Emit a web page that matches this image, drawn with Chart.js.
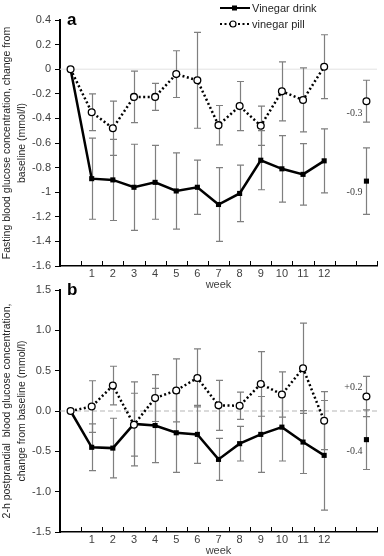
<!DOCTYPE html>
<html><head><meta charset="utf-8">
<script src="https://cdn.jsdelivr.net/npm/chart.js@4/dist/chart.umd.min.js"></script>
<style>
html,body{margin:0;padding:0;background:#fff;}
body{width:384px;height:556px;position:relative;overflow:hidden;}
.box{position:absolute;left:0;width:384px;}
#wa{top:0;height:294px;}
#wb{top:278px;height:282px;}
</style></head><body>
<div class="box" id="wa"><canvas id="ca"></canvas></div>
<div class="box" id="wb"><canvas id="cb"></canvas></div>
<script>
// categories: baseline, weeks 1-12, gap, overall
const weeks = ['', '1','2','3','4','5','6','7','8','9','10','11','12','',''];

// (a) fasting blood glucose, change from baseline (mmol/l)
const drinkFasting    = [0, -0.89, -0.90, -0.96, -0.92, -0.99, -0.96, -1.10, -1.01, -0.74, -0.81, -0.855, -0.745, null, -0.91];
const drinkFastingErr = [0,  0.33,  0.33,  0.35,  0.30,  0.31,  0.22,  0.30,  0.23,  0.24,  0.27,  0.25,   0.26,  null,  0.27];
const pillFasting     = [0, -0.35, -0.48, -0.225, -0.225, -0.04, -0.09, -0.455, -0.30, -0.46, -0.18, -0.25, 0.02, null, -0.26];
const pillFastingErr  = [0,  0.15,  0.22,  0.21,   0.11,   0.19,  0.39,  0.16,   0.20,  0.16,  0.24,  0.26, 0.26, null,  0.17];
const summaryFasting  = ['-0.9', '-0.3'];

// (b) 2-h postprandial blood glucose, change from baseline (mmol/l)
const drinkPost    = [0, -0.45, -0.46, -0.16, -0.18, -0.27, -0.29, -0.60, -0.405, -0.29, -0.20, -0.385, -0.55, null, -0.355];
const drinkPostErr = [0,  0.29,  0.37,  0.52,  0.46,  0.49,  0.36,  0.26,  0.215,  0.47,  0.42,  0.39,   0.68, null,  0.37];
const pillPost     = [0, 0.055, 0.315, -0.17, 0.16, 0.255, 0.41, 0.07, 0.065, 0.335, 0.205, 0.53, -0.12, null, 0.18];
const pillPostErr  = [0, 0.32,  0.24,   0.39, 0.29, 0.39,  0.36, 0.31, 0.17,  0.40,  0.28,  0.56,  0.36, null, 0.25];
const summaryPost  = ['-0.4', '+0.2'];

const seriesNames = ['Vinegar drink', 'vinegar pill'];
const xTitle = 'week';
const yTitleFasting = ['Fasting blood glucose concentration, change from', 'baseline (mmol/l)'];
const yTitlePost = ['2-h postprandial  blood glucose concentration,', 'change from baseline (mmol/l)'];

Chart.defaults.font.family = "'Liberation Sans', Arial, sans-serif";
Chart.defaults.color = '#404040';

const errorBars = {
  id: 'errorBars',
  beforeDatasetsDraw(chart) {
    const ctx = chart.ctx, ys = chart.scales.y, xs = chart.scales.x, ca = chart.chartArea;
    const o = chart.options.plugins.errorBars;
    ctx.save();
    // zero reference line
    const z = ys.getPixelForValue(0);
    ctx.strokeStyle = o.zeroColor;
    ctx.setLineDash(o.zeroDash);
    ctx.lineWidth = 1;
    ctx.beginPath(); ctx.moveTo(ca.left, z); ctx.lineTo(ca.right, z); ctx.stroke();
    ctx.setLineDash([]);
    // x tick marks (pointing up, at category boundaries)
    const step = xs.getPixelForValue(1) - xs.getPixelForValue(0);
    ctx.strokeStyle = '#000'; ctx.lineWidth = 1;
    for (let i = 0; i <= weeks.length; i++) {
      const px = Math.round(xs.getPixelForValue(0) + (i - 0.5) * step) + 0.5;
      ctx.beginPath(); ctx.moveTo(px, ca.bottom); ctx.lineTo(px, ca.bottom - 5); ctx.stroke();
    }
    // error bars
    chart.data.datasets.forEach((ds, di) => {
      const meta = chart.getDatasetMeta(di);
      if (!ds.errors) return;
      ctx.strokeStyle = ds.errorColor; ctx.lineWidth = 1.2;
      meta.data.forEach((pt, i) => {
        const v = ds.data[i], e = ds.errors[i];
        if (v == null || !e) return;
        const x = Math.round(pt.x) + 0.5, y1 = ys.getPixelForValue(v + e), y2 = ys.getPixelForValue(v - e);
        ctx.beginPath();
        ctx.moveTo(x, y1); ctx.lineTo(x, y2);
        ctx.moveTo(x - 3.5, y1); ctx.lineTo(x + 3.5, y1);
        ctx.moveTo(x - 3.5, y2); ctx.lineTo(x + 3.5, y2);
        ctx.stroke();
      });
    });
    ctx.restore();
  },
  afterDatasetsDraw(chart) {
    const ctx = chart.ctx, o = chart.options.plugins.errorBars;
    ctx.save();
    ctx.font = "10px 'Liberation Serif', serif";
    ctx.fillStyle = '#404040';
    ctx.textAlign = 'right'; ctx.textBaseline = 'middle';
    chart.data.datasets.forEach((ds, di) => {
      const meta = chart.getDatasetMeta(di);
      const pt = meta.data[meta.data.length - 1];
      ctx.fillText(o.summary[di], pt.x - 4, pt.y + o.summaryDy[di]);
    });
    // panel letter
    ctx.font = "bold 17px 'Liberation Sans', Arial, sans-serif";
    ctx.textAlign = 'left';
    ctx.fillStyle = '#000';
    ctx.fillText(o.letter, chart.chartArea.left + 7, chart.chartArea.top);
    // legend
    if (o.legend) {
      const lx = 220, ly = 8;
      ctx.font = "11px 'Liberation Sans', Arial, sans-serif";
      ctx.strokeStyle = '#000';
      ctx.lineWidth = 2;
      ctx.beginPath(); ctx.moveTo(lx, ly); ctx.lineTo(lx + 30, ly); ctx.stroke();
      ctx.fillStyle = '#000'; ctx.fillRect(lx + 12, ly - 2.5, 5, 5);
      ctx.fillStyle = '#262626';
      ctx.fillText(seriesNames[0], lx + 32, ly + 1);
      ctx.setLineDash([2, 2.5]);
      ctx.beginPath(); ctx.moveTo(lx, ly + 16); ctx.lineTo(lx + 30, ly + 16); ctx.stroke();
      ctx.setLineDash([]);
      ctx.lineWidth = 1.2;
      ctx.beginPath(); ctx.arc(lx + 13, ly + 16, 3, 0, Math.PI * 2); ctx.fillStyle = '#fff'; ctx.fill(); ctx.stroke();
      ctx.fillStyle = '#262626';
      ctx.fillText(seriesNames[1], lx + 32, ly + 17);
    }
    ctx.restore();
  }
};

function makeChart(id, drink, drinkErr, pill, pillErr, yMin, yMax, yStep, fmt, yTitle, pluginOpts, padTop) {
  return new Chart(document.getElementById(id), {
    type: 'line',
    data: {
      labels: weeks,
      datasets: [
        { label: seriesNames[0], data: drink, errors: drinkErr, errorColor: '#7f7f7f', order: 1,
          borderColor: '#000', backgroundColor: '#000', borderWidth: 2.5,
          pointStyle: 'rect', pointRadius: 3.6, pointBorderWidth: 0, pointBackgroundColor: '#000',
          spanGaps: false, tension: 0 },
        { label: seriesNames[1], data: pill, errors: pillErr, errorColor: '#7f7f7f', order: 0,
          borderColor: '#000', backgroundColor: '#fff', borderWidth: 2.5, borderDash: [2, 2.5],
          pointStyle: 'circle', pointRadius: 3.4, pointBorderWidth: 1.3, pointBackgroundColor: '#fff', pointBorderColor: '#000',
          spanGaps: false, tension: 0 }
      ]
    },
    options: {
      responsive: true, maintainAspectRatio: false, animation: false,
      layout: { padding: { top: padTop, right: 7, left: 0, bottom: 0 } },
      plugins: { legend: { display: false }, tooltip: { enabled: false }, errorBars: pluginOpts },
      scales: {
        x: {
          type: 'category', offset: true,
          grid: { display: false, drawTicks: false, tickLength: 0 },
          border: { display: true, color: '#000', width: 1.5 },
          ticks: { padding: 1, font: { size: 11 }, color: '#404040', maxRotation: 0, autoSkip: false },
          title: { display: true, text: xTitle, font: { size: 11 }, color: '#404040', padding: { top: 0, bottom: 2 } },
          afterFit: s => { s.height = 28; }
        },
        y: {
          min: yMin, max: yMax,
          grid: { drawOnChartArea: false, drawTicks: true, tickLength: 5, tickColor: '#000', color: '#000' },
          border: { display: true, color: '#000', width: 2 },
          ticks: { stepSize: yStep, padding: 4, font: { size: 11 }, color: '#404040', callback: fmt },
          title: { display: true, text: yTitle, font: { size: 10.5, lineHeight: 1.4 }, color: '#262626', padding: { top: 0, bottom: 0 } },
          afterFit: s => { s.width = 60; }
        }
      }
    },
    plugins: [errorBars]
  });
}

makeChart('ca', drinkFasting, drinkFastingErr, pillFasting, pillFastingErr, -1.6, 0.4, 0.2,
  v => { const r = Math.round(v * 10) / 10; return (r === 0 ? 0 : r).toString(); },
  yTitleFasting,
  { zeroColor: '#e3e3e3', zeroDash: [], summary: summaryFasting, summaryDy: [11, 12], letter: 'a', legend: true }, 20);

makeChart('cb', drinkPost, drinkPostErr, pillPost, pillPostErr, -1.5, 1.5, 0.5,
  v => { const r = Math.round(v * 10) / 10; return (r === 0 ? 0 : r).toFixed(1); },
  yTitlePost,
  { zeroColor: '#b5b5b5', zeroDash: [5, 3], summary: summaryPost, summaryDy: [12, -9], letter: 'b', legend: false }, 12);
</script>
</body></html>
